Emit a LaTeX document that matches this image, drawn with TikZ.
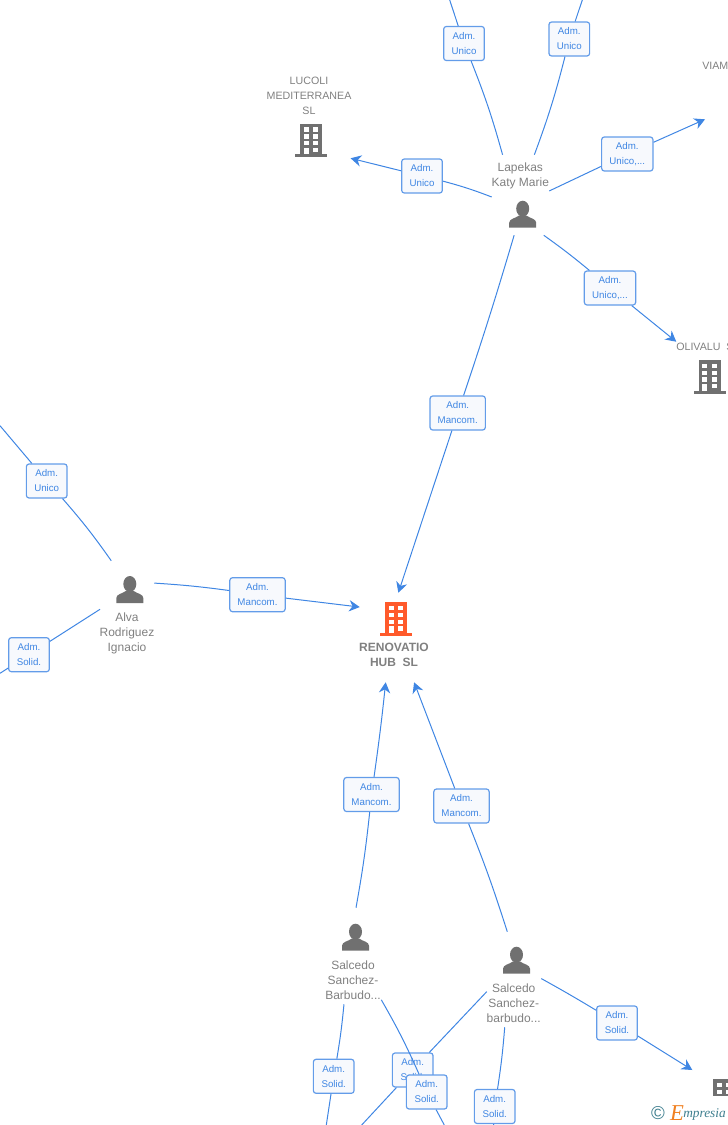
\documentclass[tikz,border=0pt]{standalone}
\usepackage{fontspec}
\setmainfont{Liberation Sans}
\newfontfamily\logofont{Liberation Serif}
\usetikzlibrary{arrows.meta}
\definecolor{linkblue}{HTML}{3F86E3}
\definecolor{boxblue}{HTML}{639CE9}
\definecolor{boxfill}{HTML}{F7F9FD}
\definecolor{iconfill}{HTML}{707070}
\definecolor{labelgray}{HTML}{808080}
\definecolor{mainorange}{HTML}{FF5A2B}
\definecolor{logoorange}{HTML}{F08020}
\definecolor{logoteal}{HTML}{3F7F8F}
\tikzstyle{link} = [draw,color=linkblue,line width=.75pt]
\tikzstyle{tolink} = [link,-{Stealth[length=8pt,width=8.5pt,inset=2.6pt]}]
\tikzset{
  pics/firmicon/.style={code={
      \fill[pic actions] (-11,0) rectangle (11,31);
      \fill[pic actions] (-16,30.5) rectangle (16,33.5);
      \foreach \y in {3.7,10.7,17.3,24}{
        \fill[white] (-7.5,\y) rectangle (-2.5,\y+4.2);
        \fill[white] (2,\y) rectangle (7,\y+4.2);
      }
      \fill[white] (-7.5,26) rectangle (-2.5,30.5);
  }},
  pics/personicon/.style={code={
      \fill[iconfill] (0,-19) ellipse (6.5 and 8);
      \fill[iconfill] (-13.5,0) -- (-13.5,-5) .. controls (-13.5,-9) and (-7,-9.5) .. (-4,-12)
        -- (4,-12) .. controls (7,-9.5) and (13.5,-9) .. (13.5,-5) -- (13.5,0) -- cycle;
  }}
}

\begin{document}
\begin{tikzpicture}[x=.75pt,y=-.75pt,
      role node/.style={draw=boxblue,fill=boxfill,line width=.9pt,rounded corners=2pt,inner sep=0pt,
        minimum height=25.5pt,align=center,text=linkblue,font=\fontsize{7.3}{11.25}\selectfont},
      short role/.style={role node,minimum width=30.5pt},
      mid role/.style={role node,minimum width=38.5pt},
      long role/.style={role node,minimum width=41.5pt},
      person text/.style={inner sep=0pt,align=center,text=labelgray,font=\fontsize{9}{11.25}\selectfont},
      firm text/.style={inner sep=0pt,align=center,text=labelgray,font=\fontsize{8}{11.25}\selectfont},
      hub node/.style 2 args={inner sep=0pt,minimum width=#1*.75pt,minimum height=#2*.75pt}]

      \clip (0,0) rectangle (728,1125);

      % people and firms
      \node[hub node={57}{80}] (LK) at (520.5,195) {};
      \node[person text] (LKT) at (520.3,175.7) {Lapekas\\Katy Marie};
      \pic at (522.7,227.7) {personicon};

      \node[hub node={54}{48}] (AR) at (127,585) {};
      \node[person text] (ART) at (127,633.2) {Alva\\Rodriguez\\Ignacio};
      \pic at (129.8,603) {personicon};

      \node[hub node={50}{96}] (SS1) at (356,956) {};
      \node[person text] (SS1T) at (353,980.3) {Salcedo\\Sanchez-\\Barbudo...};
      \pic at (355.5,950.7) {personicon};

      \node[hub node={54}{95}] (SS2) at (514,979.5) {};
      \node[person text] (SS2T) at (513.7,1003.2) {Salcedo\\Sanchez-\\barbudo...};
      \pic at (516.5,973.7) {personicon};

      \node[hub node={72}{89}] (RH) at (396,637.5) {};
      \pic[fill=mainorange] at (396,602.3) {firmicon};
      \node[person text,font=\fontsize{9}{11.25}\selectfont\bfseries] (RHT) at (394,655.3) {RENOVATIO\\HUB\ \ SL};

      \node[hub node={80}{76}] (LM) at (311,120) {};
      \node[firm text] (LMT) at (309,96) {LUCOLI\\MEDITERRANEA\\SL};
      \pic[fill=iconfill] at (311,123.7) {firmicon};

      \node[hub node={68}{56}] (OL) at (710,370) {};
      \node[firm text,anchor=west] (OLT) at (676,346.5) {OLIVALU\ \ S};
      \pic[fill=iconfill] at (709.7,360) {firmicon};

      \node[firm text,anchor=west] (VMT) at (702,65.5) {VIAM};
      \pic[fill=iconfill] at (724,1079.3) {firmicon};

      % free ends
      \coordinate (TL) at (449.7,0);
      \coordinate (TR) at (582.3,0);
      \coordinate (VM) at (705,119.3);
      \coordinate (BR) at (692.3,1070);
      \coordinate (WT) at (0,425.7);
      \coordinate (WB) at (0,673.3);
      \coordinate (BA) at (326.3,1125);
      \coordinate (BB) at (361.7,1125);
      \coordinate (BC) at (444.3,1125);
      \coordinate (BD) at (493.7,1125);

      % roles
      \node[short role] (R1) at (464,43.5) {Adm.\\Unico};
      \node[short role] (R2) at (569.3,39) {Adm.\\Unico};
      \node[short role] (R3) at (422,176) {Adm.\\Unico};
      \node[mid role] (R4) at (627.3,154) {Adm.\\Unico,...};
      \node[mid role] (R5) at (610,288) {Adm.\\Unico,...};
      \node[long role] (R6) at (457.7,413) {Adm.\\Mancom.};
      \node[short role] (R7) at (46.7,481) {Adm.\\Unico};
      \node[short role] (R8) at (29,654.7) {Adm.\\Solid.};
      \node[long role] (R9) at (257.5,594.7) {Adm.\\Mancom.};
      \node[long role] (R10) at (371.5,794.5) {Adm.\\Mancom.};
      \node[long role] (R11) at (461.5,806) {Adm.\\Mancom.};
      \node[short role] (R12) at (333.7,1076.3) {Adm.\\Solid.};
      \node[short role] (R13) at (412.7,1070) {Adm.\\Solid.};
      \node[short role] (R14) at (426.7,1092) {Adm.\\Solid.};
      \node[short role] (R15) at (494.7,1106.5) {Adm.\\Solid.};
      \node[short role] (R16) at (617,1023) {Adm.\\Solid.};

      \path[link]
      (LK.114) edge [bend right=3] (R1)
      (R1) edge (TL)
      (LK.71) edge [bend right=3] (R2)
      (R2) edge (TR)
      (LK.184) edge [bend right=3] (R3)
      (LK.8) edge (R4)
      (LK.300) edge [bend left=2] (R5)
      (LK.261) edge [bend left=1] (R6)
      (AR.4) edge [bend left=2] (R9)
      (AR.123) edge [bend right=3] (R7)
      (R7) edge (WT)
      (AR.222) edge (R8)
      (R8) edge (WB)
      (SS1.90) edge [bend right=2] (R10)
      (SS2.98) edge [bend right=2] (R11)
      (SS1.256) edge [bend left=2] (R12)
      (R12) edge (BA)
      (SS1.300) edge [bend left=3] (R14)
      (R14) edge (BC)
      (SS2.204) edge (R13)
      (R13) edge (BB)
      (SS2.259) edge [bend left=2] (R15)
      (R15) edge (BD)
      (SS2.2) edge [bend left=1] (R16);

      \path[tolink]
      (R3) edge (LM.316)
      (R4) edge (VM)
      (R5) edge (OL.140)
      (R6) edge (RH.87)
      (R9) edge (RH.140)
      (R10) edge [bend right=1] (RH.257)
      (R11) edge (RH.292)
      (R16) edge (BR);

      % logo strip
      \fill[white] (645,1096) rectangle (728,1125);
      \node[inner sep=0pt,text=logoteal,font=\fontsize{14}{14}\selectfont] (CP) at (658,1113.5) {©};
      \node[inner sep=0pt,text=logoorange,font=\logofont\itshape\fontsize{17}{17}\selectfont] (LE) at (677,1113) {E};
      \node[inner sep=0pt,anchor=west,text=logoteal,font=\logofont\itshape\fontsize{10}{12}\selectfont] (LP) at (683,1114) {mpresia};
\end{tikzpicture}
\end{document}
